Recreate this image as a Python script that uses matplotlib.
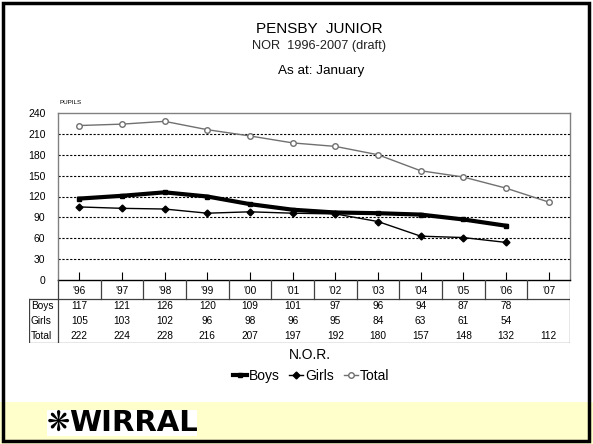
import numpy as np
import matplotlib
matplotlib.use("Agg")
import matplotlib.pyplot as plt
from matplotlib.lines import Line2D
from matplotlib.patches import Rectangle

plt.rcParams['font.family'] = ['Liberation Sans', 'DejaVu Sans']

# ---- data ----
years = ["'96", "'97", "'98", "'99", "'00", "'01", "'02", "'03", "'04", "'05", "'06", "'07"]
boys = [117, 121, 126, 120, 109, 101, 97, 96, 94, 87, 78, None]
girls = [105, 103, 102, 96, 98, 96, 95, 84, 63, 61, 54, None]
total = [222, 224, 228, 216, 207, 197, 192, 180, 157, 148, 132, 112]
yticks = [0, 30, 60, 90, 120, 150, 180, 210, 240]

W, H = 593, 444
fig = plt.figure(figsize=(W / 100, H / 100), dpi=100)

def fx(px):
    return px / W

def fy(py):
    return 1 - py / H

# ---- slide frame / footer ----
fig.patches.append(Rectangle((0, 0), 1, fy(402), transform=fig.transFigure,
                             facecolor='#ffffcc', edgecolor='none', zorder=0))
fig.patches.append(Rectangle((fx(3), fy(441)), fx(589 - 3), fy(3) - fy(441),
                             transform=fig.transFigure, facecolor='none',
                             edgecolor='black', linewidth=2.5, zorder=10))

# ---- titles ----
fig.text(fx(319), fy(29), "PENSBY  JUNIOR", ha='center', va='center', fontsize=11)
fig.text(fx(319), fy(46), "NOR  1996-2007 (draft)", ha='center', va='center', fontsize=9.2,
         color='#222222')
fig.text(fx(321), fy(71), "As at: January", ha='center', va='center', fontsize=9.7)

# ---- plot area ----
x0, x1, ytop, ybot = 58, 570, 113, 280
ax = fig.add_axes([fx(x0), fy(ybot), fx(x1 - x0), fy(ytop) - fy(ybot)])
x = np.arange(len(years))

def series(vals):
    xs = [i for i, v in enumerate(vals) if v is not None]
    ys = [v for v in vals if v is not None]
    return xs, ys

tx, ty = series(total)
ax.plot(tx, ty, color='#707070', lw=1, marker='o', ms=4, mfc='white', mec='#707070', zorder=3)
bx, by = series(boys)
ax.plot(bx, by, color='black', lw=3, marker='s', ms=2.5, zorder=4)
gx, gy = series(girls)
ax.plot(gx, gy, color='black', lw=1, marker='D', ms=3.5, zorder=4)

ax.set_xlim(-0.5, len(years) - 0.5)
ax.set_ylim(0, 240)
ax.set_yticks(yticks)
ax.set_yticklabels([str(v) for v in yticks], fontsize=7.5)
for v in yticks[1:-1]:
    ax.axhline(v, color='black', lw=0.8, ls=(0, (2, 1.5)), zorder=1)
ax.set_xticks(x)
ax.set_xticklabels([])
ax.tick_params(axis='x', direction='in', length=6, width=0.8, color='black')
ax.tick_params(axis='y', length=0, pad=9)
for s in ax.spines.values():
    s.set_color('#808080')
    s.set_linewidth(1)
ax.spines['bottom'].set_color('black')
fig.text(fx(59), fy(103), "PUPILS", fontsize=4.5, va='center', ha='left')

# ---- data table ----
lab_l, tb_bot, row_h = 29, 343, 19
colw = (x1 - x0) / len(years)
tax = fig.add_axes([fx(lab_l), fy(tb_bot), fx(x1 - lab_l), fy(ybot) - fy(tb_bot)])
xmin = -0.5 - (x0 - lab_l) / colw
tax.set_xlim(xmin, len(years) - 0.5)
tax.set_ylim(tb_bot - ybot, 0)
tax.axis('off')
lk = dict(color='#404040', lw=0.9)
# category row
for i in range(len(years) + 1):
    tax.plot([i - 0.5, i - 0.5], [0, row_h], **lk)
for i, yr in enumerate(years):
    tax.text(i, row_h * 0.58, yr, ha='center', va='center', fontsize=7.3)
# body
tax.plot([xmin, len(years) - 0.5], [row_h, row_h], **lk)
tax.plot([xmin, len(years) - 0.5], [tb_bot - ybot, tb_bot - ybot], **lk)
tax.plot([xmin, xmin], [row_h, tb_bot - ybot], **lk)
tax.plot([-0.5, -0.5], [row_h, tb_bot - ybot], **lk)
tax.plot([len(years) - 0.5] * 2, [row_h, tb_bot - ybot], **lk)
body_h = (tb_bot - ybot) - row_h
rows = [("Boys", boys), ("Girls", girls), ("Total", total)]
for r, (name, vals) in enumerate(rows):
    yy = row_h + body_h * (r + 0.5) / 3
    tax.text(xmin + 0.04, yy, name, ha='left', va='center', fontsize=7.3)
    for i, v in enumerate(vals):
        if v is not None:
            tax.text(i, yy, str(v), ha='center', va='center', fontsize=7.3)

# ---- axis title & legend ----
fig.text(fx(310), fy(355), "N.O.R.", ha='center', va='center', fontsize=10)
handles = [
    Line2D([], [], color='black', lw=3, marker='s', ms=2.5),
    Line2D([], [], color='black', lw=1, marker='D', ms=3.5),
    Line2D([], [], color='#707070', lw=1, marker='o', ms=4, mfc='white'),
]
fig.legend(handles, ["Boys", "Girls", "Total"], loc='center', bbox_to_anchor=(fx(311), fy(376)),
           ncol=3, frameon=False, fontsize=10, handlelength=1.0, handletextpad=0.15,
           columnspacing=0.7, borderpad=0)

# ---- logo ----
fig.patches.append(Rectangle((fx(47), fy(436)), fx(150), fy(410) - fy(436), transform=fig.transFigure,
                             facecolor='white', edgecolor='none', zorder=1))
fig.text(fx(58), fy(423), "\u274b", family='DejaVu Sans', fontsize=20, fontweight='bold',
         ha='center', va='center', zorder=2)
fig.text(fx(69), fy(423), "WIRRAL", fontsize=21, fontweight='heavy', ha='left', va='center',
         family=['DejaVu Sans'], zorder=2)

fig.savefig("out.png", dpi=100)
